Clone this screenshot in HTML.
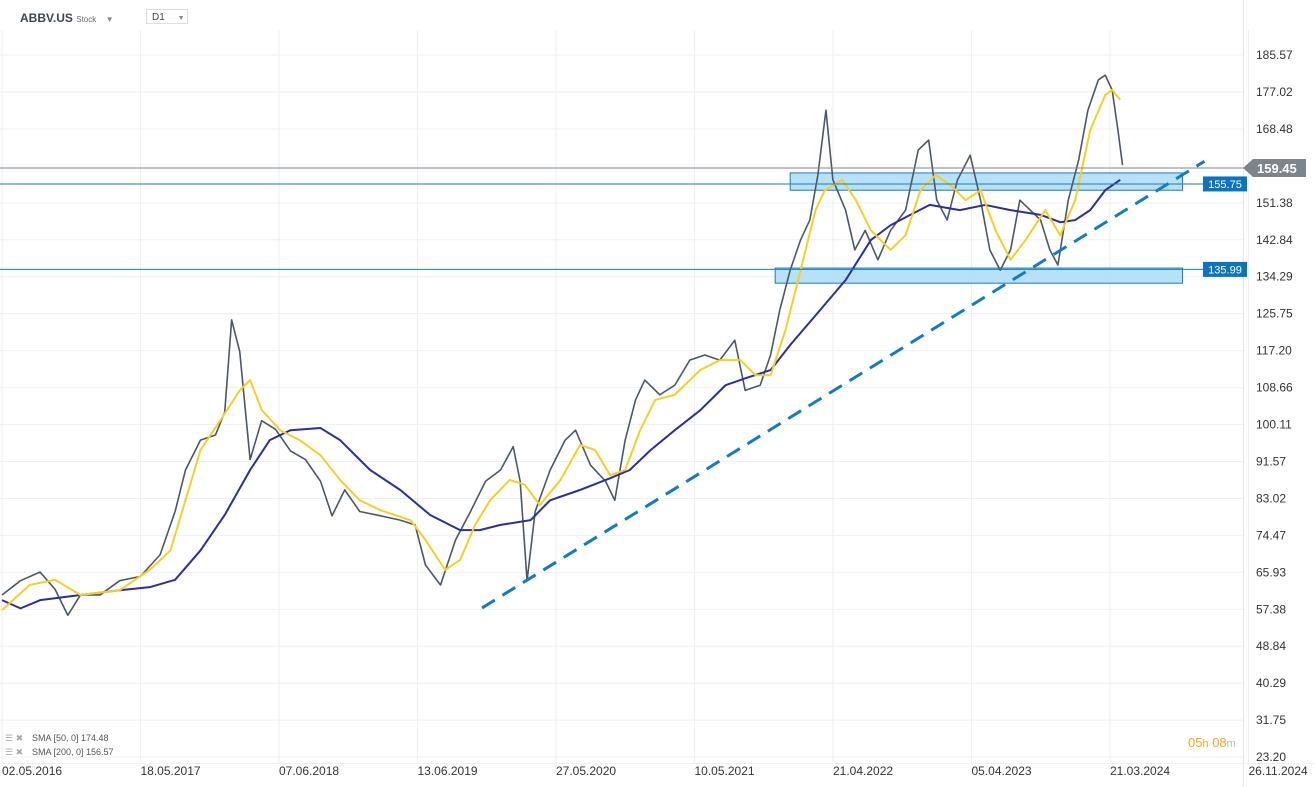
<!DOCTYPE html>
<html><head><meta charset="utf-8"><style>
html,body{margin:0;padding:0;background:#fff;width:1315px;height:787px;overflow:hidden;font-family:"Liberation Sans",sans-serif}
#hdr{position:absolute;left:0;top:0;width:1243px;height:30px}
</style></head><body>
<div id="hdr">
<div style="position:absolute;left:20px;top:11px;font-size:12px;font-weight:bold;color:#3c4650">ABBV.US <span style="font-size:8px;font-weight:normal;color:#666">Stock</span> <span style="font-size:8px;color:#888;margin-left:6px">▼</span></div>
<div style="position:absolute;left:146px;top:9px;width:42px;height:15px;border:1px solid #ddd;font-size:10px;color:#444;line-height:15px;padding-left:5px;box-sizing:border-box">D1 <span style="font-size:7px;color:#888;margin-left:10px">▼</span></div>
</div>
<svg id="chart" width="1315" height="787" style="position:absolute;left:0;top:0"></svg>
<script>
const yTicks=[185.57,177.02,168.48,151.38,142.84,134.29,125.75,117.20,108.66,100.11,91.57,83.02,74.47,65.93,57.38,48.84,40.29,31.75,23.20];
const dateLabels=["02.05.2016","18.05.2017","07.06.2018","13.06.2019","27.05.2020","10.05.2021","21.04.2022","05.04.2023","21.03.2024","26.11.2024"];
const priceMonths=[0,1.6,3.3,4.6,5.7,6.8,8.5,10.2,12,13.7,15,15.9,17.2,18.5,19.3,19.9,20.6,21.5,22.5,23.7,25,26.3,27.6,28.6,29.7,31,32.8,34.5,35.8,36.7,38,39.3,40.6,41.9,43.2,44.3,44.9,45.5,46.2,47.5,48.8,49.7,51,52.3,53.1,54,54.9,55.7,57,58.3,59.6,60.9,62.2,63.5,64.4,65.7,66.6,67.4,68.3,69.2,70,70.7,71.4,72,73.1,73.9,74.8,75.9,77,78.3,79.4,80.3,81,81.9,82.8,83.9,84.8,85.6,86.5,87.4,88.2,89.1,90,90.8,91.5,92.4,93.3,94.1,95,95.6,96.2,96.7,97.1];
const priceValues=[60.7,64,66,62,56,60.7,60.7,64,65,70,80,89.6,96.5,97.7,103,124.3,117,92,101,99,94,92,87,79,85,80,79,78,76.9,67.6,63,73.4,80,87,89.6,95,87,64,80,89.6,96.5,98.8,90.7,87,82.6,96.5,105.8,110.4,107,109.2,115,116.2,115,119.6,108,109.2,116.2,126.6,135.8,142.8,147.4,157.8,172.8,156.7,149.7,140.5,145,138.2,145,149.7,163.6,165.9,152,147.4,156.7,162.4,152,140.5,135.8,140.5,152,149.7,147.4,140.5,137,152,161.3,172.8,179.8,180.9,177.5,168.2,160.1];
const sma50Months=[0,2.4,4.6,6.8,10.2,12.8,14.6,15.9,17.2,18.9,20.6,21.5,22.5,24.1,25.8,27.6,29.3,31,32.8,35.4,36.7,38.4,39.7,41,42.3,44,45.3,46.6,48.4,50.1,51.4,52.7,54,55.3,56.6,58.3,60.5,62.2,64,65.3,66.6,67.9,69.2,70.5,71.3,72.8,74,75.3,77,78.3,79.6,80.9,82.2,83.5,84.8,86.1,87.4,88.7,90.4,91.7,93,94.3,95.6,96.2,96.9];
const sma50Values=[57.2,63,64.2,60.7,61.8,66.5,71,82.6,94.2,101,108,110.4,103.5,98.8,96.5,93,87.3,82.6,80.3,78,73.4,66.5,68.8,76.9,82.6,87.3,86.2,81.5,87.3,95.4,94.2,88.4,89.6,98.8,105.8,107,112.7,115,115,111.5,111.5,122,135.8,149.7,154.3,156.7,152,145,140.5,143.9,154.3,157.8,155.5,152,154.3,145,138.2,142.8,149.7,143.9,152,168.2,176.3,177.5,175.2];
const sma200Months=[0,1.6,3.3,6.8,10.2,12.8,15,17.2,19.3,21.5,23.2,25,27.6,29.3,31.9,34.5,37.1,39.7,41.4,43.2,45.8,47.5,50.1,52.7,54.4,56.2,58.3,60.5,62.7,64.4,66.6,68.3,70.9,73.1,75.3,77,78.7,80.4,83,85.2,87.4,90,91.7,93,94.3,95.6,96.9];
const sma200Values=[59.5,57.6,59.5,60.7,61.8,62.5,64.2,71,79.2,89.6,96.5,98.8,99.3,96.5,89.6,85,79.2,75.7,75.7,76.9,78,82.6,85,87.7,89.6,94.2,98.8,103.4,109.2,110.8,112.7,118.5,126.6,133.5,142.8,146.2,148.6,150.9,149.7,150.9,149.7,148.6,146.9,147.4,149.7,154.3,156.7];
const levels=[155.75,135.99];
const zoneTop=[158.3,136.3], zoneBot=[154.3,132.8], zoneStart=[68.3,67.0], zoneEnd=[102.3,102.3];
const lastPrice=159.45;
const trendStart=[41.6,57.7], trendEnd=[104.2,161.0];

const NS="http://www.w3.org/2000/svg";
const svg=document.getElementById('chart');
const Y=v=>55+(185.57-v)/8.545*36.95;
const X=m=>2+m*11.54;
const PW=1243;
function el(t,a,p){const e=document.createElementNS(NS,t);for(const k in a)e.setAttribute(k,a[k]);(p||svg).appendChild(e);return e;}

// grid
yTicks.forEach(v=>{
 const g=el('line',{x1:0,x2:PW,y1:Y(v),y2:Y(v),stroke:'#eef0f2','stroke-width':1});
 
 
 const t=el('text',{x:1256,y:Y(v)+4,'font-size':12,fill:'#333'});
 t.textContent=v.toFixed(2);
 
 
});
dateLabels.forEach((d,i)=>{
 const x=2+i*138.5;
 const g=el('line',{x1:x,x2:x,y1:30,y2:763,stroke:'#eef0f2','stroke-width':1});
 
 
 const t=el('text',{x:x,y:775,'font-size':12,fill:'#333'});
 t.textContent=d;
 
 
});
const ax=el('line',{x1:PW+0.5,x2:PW+0.5,y1:0,y2:787,stroke:'#e4e6e8'});


const bx=el('line',{x1:0,x2:1315,y1:763.5,y2:763.5,stroke:'#eef0f2'});



// zones
levels.forEach((lv,i)=>{
 const r=el('rect',{x:X(zoneStart[i]),y:Y(zoneTop[i]),width:X(zoneEnd[i])-X(zoneStart[i]),height:Y(zoneBot[i])-Y(zoneTop[i]),fill:'#a9dcf5','fill-opacity':0.85,stroke:'#1a7bc0','stroke-width':1});
 
 
});

function poly(ms,vs,color,w,name){
 const p=el('polyline',{points:ms.map((m,i)=>X(m)+','+Y(vs[i])).join(' '),fill:'none',stroke:color,'stroke-width':w,'stroke-linejoin':'round'});
 
 
}
poly(priceMonths,priceValues,'#4a5866',1.6,'price-series');
poly(sma200Months,sma200Values,'#2b2f9a',2,'sma-200-line');
poly(sma50Months,sma50Values,'#f5cf27',2,'sma-50-line');

// horizontal levels
const lp=el('line',{x1:0,x2:PW,y1:Y(lastPrice),y2:Y(lastPrice),stroke:'#7a8590','stroke-width':1});


levels.forEach(lv=>{
 const l=el('line',{x1:0,x2:1203,y1:Y(lv),y2:Y(lv),stroke:'#1a7bc0','stroke-width':1});
 
 
 const r=el('rect',{x:1203,y:Y(lv)-7.5,width:44,height:15,fill:'#0a74bd'});
 
 
 const t=el('text',{x:1225,y:Y(lv)+4,'font-size':11,fill:'#fff','text-anchor':'middle'});
 t.textContent=lv.toFixed(2);
 
 
});
// trend line
const tl=el('line',{x1:X(trendStart[0]),y1:Y(trendStart[1]),x2:X(trendEnd[0]),y2:Y(trendEnd[1]),stroke:'#137bc4','stroke-width':3,'stroke-dasharray':'15 9'});


// last price tag
const ly=Y(lastPrice);
const tag=el('polygon',{points:`1243,${ly} 1253,${ly-9} 1306,${ly-9} 1306,${ly+9} 1253,${ly+9}`,fill:'#7c858c'});


const tt=el('text',{x:1257,y:ly+5,'font-size':13,'font-weight':'bold',fill:'#fff'});
tt.textContent=lastPrice.toFixed(2);


// countdown
const cd=el('text',{x:1188,y:747,'font-size':13,fill:'#f5a623'});
cd.innerHTML='05<tspan font-size="11">h</tspan> 08<tspan font-size="11" fill="#bbb">m</tspan>';


// legend
[['SMA [50,  0] 174.48',741],['SMA [200,  0] 156.57',755]].forEach(a=>{
 const t=el('text',{x:32,y:a[1],'font-size':9,fill:'#555'});
 t.textContent=a[0];
 
 
 const i=el('text',{x:5,y:a[1],'font-size':9,fill:'#aaa'});
 i.textContent='☰ ✖';
 
 
});
</script>
</body></html>
